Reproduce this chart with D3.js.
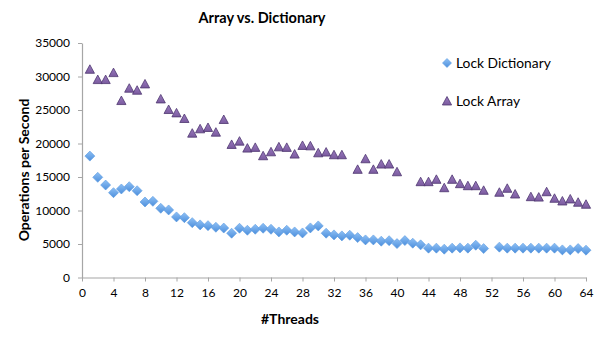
<!DOCTYPE html>
<html><head><meta charset="utf-8">
<script src="https://cdn.jsdelivr.net/npm/d3@7/dist/d3.min.js"></script>
<style>body{margin:0;background:#fff}svg{display:block}text{font-family:Lato,"Open Sans",sans-serif}</style>
</head><body><svg id="c" width="600" height="340"></svg>
<script>
const dictThreads = [1,2,3,4,5,6,7,8,9,10,11,12,13,14,15,16,17,18,19,20,21,22,23,24,25,26,27,28,29,30,31,32,33,34,35,36,37,38,39,40,41,42,43,44,45,46,47,48,49,50,51,53,54,55,56,57,58,59,60,61,62,63,64];
const dictValues = [18120,14950,13800,12660,13210,13550,12950,11270,11370,10330,10080,9040,8930,8190,7850,7740,7500,7380,6610,7350,7050,7200,7350,7200,6800,7050,6800,6650,7400,7700,6610,6360,6210,6310,5960,5610,5610,5420,5490,5060,5510,5120,4870,4380,4380,4230,4380,4420,4380,4820,4320,4530,4380,4380,4380,4380,4380,4380,4380,4120,4120,4320,4080];
const arrThreads = [1,2,3,4,5,6,7,8,10,11,12,13,14,15,16,17,18,19,20,21,22,23,24,25,26,27,28,29,30,31,32,33,35,36,37,38,39,40,43,44,45,46,47,48,49,50,51,53,54,55,57,58,59,60,61,62,63,64];
const arrValues = [31076,29540,29540,30580,26410,28250,27950,28890,26650,25070,24570,23730,21540,22190,22390,21690,23580,19860,20350,19310,19420,18170,18760,19500,19420,18420,19710,19650,18610,18720,18320,18320,16140,17720,16140,16930,16930,15780,14300,14300,14650,13400,14650,14000,13700,13700,13010,12720,13310,12460,12060,12000,12800,11820,11420,11720,11230,10930];
const xTicks = [0,4,8,12,16,20,24,28,32,36,40,44,48,52,56,60,64];
const yTicks = [0,5000,10000,15000,20000,25000,30000,35000];
const seriesNames = ["Lock Dictionary","Lock Array"];
const titleText = "Array vs. Dictionary";
const xTitle = "#Threads";
const yTitle = "Operations per Second";

const svg = d3.select("#c");
const defs = svg.append("defs");
const gb = defs.append("linearGradient").attr("id","gb").attr("x1",0).attr("y1",0).attr("x2",0).attr("y2",1);
gb.append("stop").attr("offset","0%").attr("stop-color","#8ec0f5");
gb.append("stop").attr("offset","100%").attr("stop-color","#4d8fdc");
const gp = defs.append("linearGradient").attr("id","gp").attr("x1",0).attr("y1",0).attr("x2",0).attr("y2",1);
gp.append("stop").attr("offset","0%").attr("stop-color","#9a7bbf");
gp.append("stop").attr("offset","100%").attr("stop-color","#7a5a9e");

const x = d3.scaleLinear().domain([0,64]).range([82,586]);
const y = d3.scaleLinear().domain([0,35000]).range([277.5,43]);

const axisColor = "#a6a6a6";
const gx = svg.append("g").attr("transform","translate(0,277.5)")
  .call(d3.axisBottom(x).tickValues(xTicks).tickFormat(d3.format("d")).tickSize(4).tickPadding(7).tickSizeOuter(0));
const gy = svg.append("g").attr("transform","translate(82,0)")
  .call(d3.axisLeft(y).tickValues(yTicks).tickFormat(d3.format("d")).tickSize(4).tickPadding(8).tickSizeOuter(0));
[gx,gy].forEach(g=>{
  g.select(".domain").attr("stroke",axisColor).attr("stroke-width",1.2);
  g.selectAll(".tick line").attr("stroke",axisColor);
  g.selectAll(".tick text").attr("fill","#000").style("font-size","12px").style("font-family","Lato, sans-serif");
});

const dictData = dictThreads.map((t,i)=>({t, v: dictValues[i]}));
const arrData = arrThreads.map((t,i)=>({t, v: arrValues[i]}));

const diamond = "M0,-5L5,0L0,5L-5,0Z";
const tri = "M0,-4.5L4.6,4L-4.6,4Z";

svg.append("g").selectAll("path").data(dictData).join("path")
  .attr("d",diamond).attr("transform",d=>`translate(${x(d.t)},${y(d.v)})`)
  .attr("fill","url(#gb)").attr("stroke","#5a9be0").attr("stroke-width",0.6);
svg.append("g").selectAll("path").data(arrData).join("path")
  .attr("d",tri).attr("transform",d=>`translate(${x(d.t)},${y(d.v)})`)
  .attr("fill","url(#gp)").attr("stroke","#4e3670").attr("stroke-width",0.8);

// title
svg.append("text").attr("x",262).attr("y",23).attr("text-anchor","middle")
  .style("font-size","14.5px").style("font-weight","bold").text(titleText);
svg.append("text").attr("x",290).attr("y",324).attr("text-anchor","middle")
  .style("font-size","14px").style("font-weight","bold").text(xTitle);
svg.append("text").attr("transform","translate(29,170) rotate(-90)").attr("text-anchor","middle")
  .style("font-size","14px").style("font-weight","bold").text(yTitle);

// legend
const leg = svg.append("g");
leg.append("path").attr("d","M0,-4.5L4.5,0L0,4.5L-4.5,0Z").attr("transform","translate(447,63)")
  .attr("fill","url(#gb)").attr("stroke","#5a9be0").attr("stroke-width",0.6);
leg.append("text").attr("x",456).attr("y",68).style("font-size","13.8px").text(seriesNames[0]);
leg.append("path").attr("d",tri).attr("transform","translate(447,101)")
  .attr("fill","url(#gp)").attr("stroke","#4e3670").attr("stroke-width",0.8);
leg.append("text").attr("x",456).attr("y",106).style("font-size","13.8px").text(seriesNames[1]);
</script></body></html>
